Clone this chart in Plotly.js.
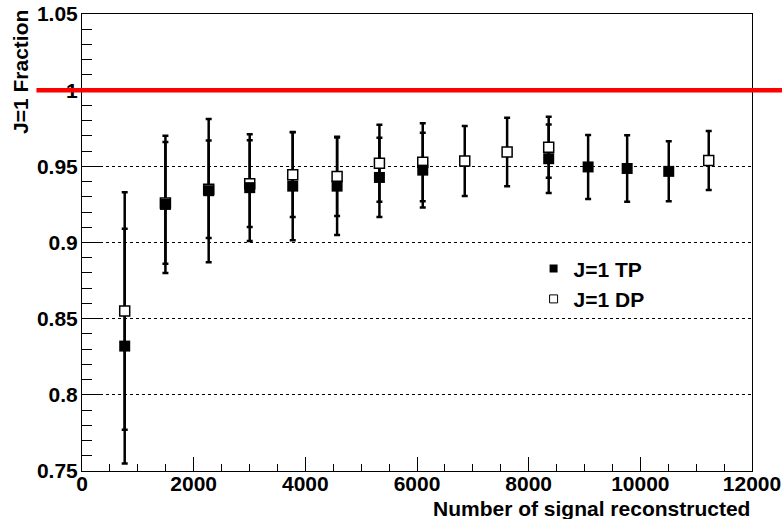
<!DOCTYPE html>
<html>
<head>
<meta charset="utf-8">
<script src="https://cdn.plot.ly/plotly-3.0.1.min.js"></script>
<style>html,body{margin:0;padding:0;background:#fff;}#chart{width:782px;height:519px;}</style>
</head>
<body>
<div id="chart"></div>
<script>
// ---- data ----
var nSignal = [765, 1494, 2269, 3004, 3774, 4569, 5327, 6103, 6855, 7614, 8359, 9065, 9764, 10509, 11225];
var tpFrac  = [0.832, 0.925, 0.934, 0.936, 0.937, 0.937, 0.9427, 0.9475, null, null, 0.955, 0.9496, 0.9486, 0.9467, null];
var tpErr   = [0.077, 0.045, 0.047, 0.035, 0.0356, 0.032, 0.026, 0.0245, null, null, 0.0225, 0.021, 0.0218, 0.0197, null];
var dpFrac  = [0.855, 0.926, 0.935, 0.9386, 0.9445, 0.9434, 0.952, 0.9527, 0.9535, 0.9594, 0.9625, null, null, null, 0.9538];
var dpErr   = [0.078, 0.040, 0.032, 0.0285, 0.0278, 0.026, 0.0253, 0.0256, 0.023, 0.0225, 0.020, null, null, null, 0.0194];
var legendNames = ["J=1 TP", "J=1 DP"];
var yTickVals = [0.75, 0.8, 0.85, 0.9, 0.95, 1, 1.05];
var yTickText = ["0.75", "0.8", "0.85", "0.9", "0.95", "1", "1.05"];
var xTickVals = [0, 2000, 4000, 6000, 8000, 10000, 12000];
var xTickText = ["0", "2000", "4000", "6000", "8000", "10000", "12000"];
var refLevel = 1;
var xTitle = "Number of signal reconstructed";
var yTitle = "J=1 Fraction";

var FONT = "Liberation Sans, Arial, Helvetica, sans-serif";
var errStyle = function(arr){ return {type:'data', array: arr, visible:true, color:'#000', thickness:2.5, width:3}; };

var traces = [
  // error bars (drawn underneath all markers)
  {x:nSignal, y:dpFrac, error_y: errStyle(dpErr), mode:'markers', marker:{size:1, opacity:0}, showlegend:false, hoverinfo:'skip'},
  {x:nSignal, y:tpFrac, error_y: errStyle(tpErr), mode:'markers', marker:{size:1, opacity:0}, showlegend:false, hoverinfo:'skip'},
  // markers
  {x:nSignal, y:dpFrac, mode:'markers', name:legendNames[1], showlegend:false,
   marker:{symbol:'square', size:10, color:'#fff', line:{color:'#000', width:1.5}}},
  {x:nSignal, y:tpFrac, mode:'markers', name:legendNames[0], showlegend:false,
   marker:{symbol:'square', size:11, color:'#000', line:{color:'#000', width:0}}},
  // legend entries
  {x:[null], y:[null], mode:'markers', name:legendNames[0], legendgroup:'a',
   marker:{symbol:'square', size:8, color:'#000', line:{color:'#000', width:0}}},
  {x:[null], y:[null], mode:'markers', name:legendNames[1], legendgroup:'b',
   marker:{symbol:'square', size:8, color:'#fff', line:{color:'#000', width:1}}}
];

var layout = {
  width:782, height:519,
  margin:{l:82, r:30, t:14, b:48, pad:0},
  paper_bgcolor:'#fff', plot_bgcolor:'#fff',
  font:{family:FONT, size:21, color:'#000', weight:'bold'},
  showlegend:true,
  legend:{x:0.674, y:0.487, xanchor:'left', yanchor:'top', bgcolor:'rgba(0,0,0,0)',
          borderwidth:0, font:{family:FONT, size:21, color:'#000', weight:'bold'},
          traceorder:'grouped', tracegroupgap:0},
  xaxis:{range:[0,12000], tickvals:xTickVals, ticktext:xTickText,
         ticks:'inside', ticklen:14, tickwidth:1, tickcolor:'#000', ticklabelstandoff:-6,
         minor:{dtick:500, tick0:0, ticks:'inside', ticklen:7, tickwidth:1, tickcolor:'#000', showgrid:false},
         showline:true, linecolor:'#000', linewidth:1, mirror:true,
         showgrid:false, zeroline:false,
         tickfont:{family:FONT, size:21, color:'#000', weight:'bold'}},
  yaxis:{range:[0.75,1.05], tickvals:yTickVals, ticktext:yTickText,
         ticks:'inside', ticklen:19, tickwidth:1, tickcolor:'#000', ticklabelstandoff:-1,
         minor:{dtick:0.01, tick0:0.75, ticks:'inside', ticklen:10, tickwidth:1, tickcolor:'#000', showgrid:false},
         showline:true, linecolor:'#000', linewidth:1, mirror:true,
         showgrid:true, gridcolor:'#000', gridwidth:1, griddash:'dot', zeroline:false,
         tickfont:{family:FONT, size:21, color:'#000', weight:'bold'}},
  shapes:[
    {type:'line', xref:'paper', yref:'y', x0:-0.068, x1:1.05, y0:refLevel, y1:refLevel,
     line:{color:'#ff0000', width:4.5}, layer:'above'}
  ],
  annotations:[
    {text:xTitle, xref:'paper', yref:'paper', x:1, y:-0.081, xanchor:'right', yanchor:'middle',
     showarrow:false, font:{family:FONT, size:21, color:'#000', weight:'bold'}},
    {text:yTitle, xref:'paper', yref:'paper', x:-0.092, y:0.874, xanchor:'center', yanchor:'middle',
     textangle:-90, showarrow:false, font:{family:FONT, size:21, color:'#000', weight:'bold'}}
  ]
};

Plotly.newPlot('chart', traces, layout, {staticPlot:true, displayModeBar:false});
</script>
</body>
</html>
